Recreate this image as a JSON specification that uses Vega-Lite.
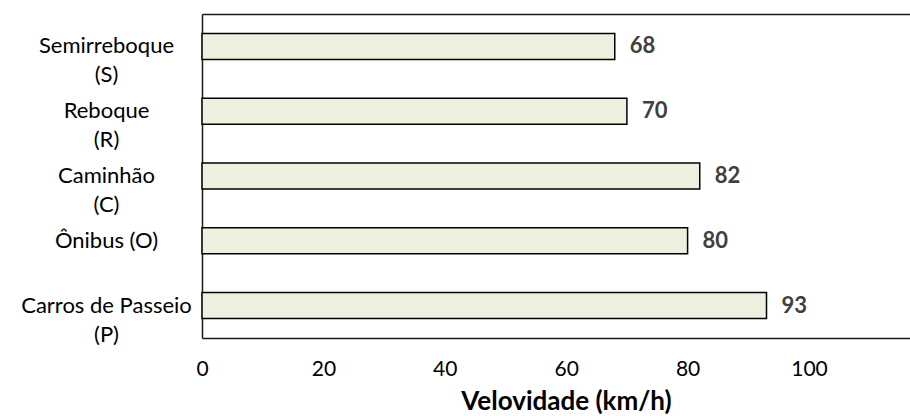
{
  "$schema": "https://vega.github.io/schema/vega-lite/v6.json",
  "width": 708,
  "height": 324,
  "autosize": {"type": "none"},
  "padding": {"left": 202, "top": 14, "right": 0, "bottom": 78},
  "background": "white",
  "config": {"view": {"stroke": null}, "font": "Lato"},
  "data": {
    "values": [
      {"tipo": "Semirreboque|(S)", "v": 68},
      {"tipo": "Reboque|(R)", "v": 70},
      {"tipo": "Caminhão|(C)", "v": 82},
      {"tipo": "Ônibus (O)", "v": 80},
      {"tipo": "Carros de Passeio|(P)", "v": 93}
    ]
  },
  "encoding": {
    "y": {
      "field": "tipo",
      "type": "nominal",
      "sort": null,
      "scale": {"paddingInner": 0, "paddingOuter": 0},
      "axis": {
        "title": null,
        "ticks": false,
        "domain": true,
        "domainColor": "#1a1a1a",
        "domainWidth": 1.5,
        "labelExpr": "split(datum.label, '|')",
        "labelAlign": "center",
        "labelBaseline": "middle",
        "labelPadding": 96,
        "labelFont": "Lato",
        "labelFontSize": 22,
        "labelColor": "#000000",
        "labelLineHeight": 29,
        "labelLimit": 0
      }
    }
  },
  "layer": [
    {
      "mark": {"type": "bar", "size": 26, "fill": "#EBF1DE", "stroke": "#000000", "strokeWidth": 1.5},
      "encoding": {
        "x": {
          "field": "v",
          "type": "quantitative",
          "scale": {"domain": [0, 116.64], "nice": false, "zero": true},
          "axis": {
            "orient": "bottom",
            "values": [0, 20, 40, 60, 80, 100],
            "grid": false,
            "ticks": false,
            "domainColor": "#1a1a1a",
            "domainWidth": 1.5,
            "labelFlush": false,
            "labelFont": "Lato",
            "labelFontSize": 21,
            "labelColor": "#000000",
            "labelPadding": 20,
            "title": "Velovidade (km/h)",
            "titleFont": "Lato",
            "titleFontSize": 26,
            "titleFontWeight": "bold",
            "titleColor": "#000000",
            "titleX": 364,
            "titleY": 71,
            "titleAlign": "center",
            "titleBaseline": "alphabetic"
          }
        }
      }
    },
    {
      "mark": {"type": "text", "align": "left", "baseline": "middle", "dx": 15, "font": "Lato", "fontWeight": "bold", "fontSize": 22, "color": "#404040"},
      "encoding": {
        "text": {"field": "v", "type": "quantitative"},
        "x": {
          "field": "v",
          "type": "quantitative",
          "axis": {
            "orient": "top",
            "labels": false,
            "ticks": false,
            "grid": false,
            "title": null,
            "domainColor": "#1a1a1a",
            "domainWidth": 1.5
          }
        }
      }
    }
  ],
  "resolve": {"axis": {"x": "independent"}}
}
